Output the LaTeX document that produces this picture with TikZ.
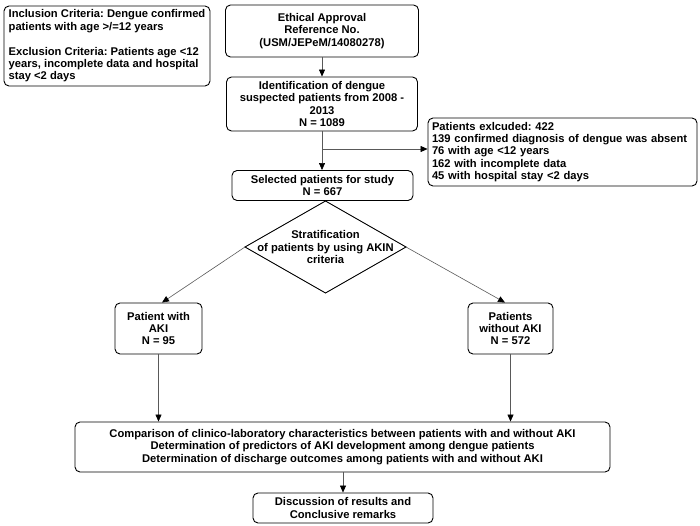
\documentclass[tikz,border=0pt]{standalone}
\usepackage{fontspec}
\setmainfont{Liberation Sans}
\usetikzlibrary{arrows.meta,calc}
\frenchspacing
\begin{document}
\begin{tikzpicture}[x=1pt,y=-1pt,
  font=\fontsize{11.2}{12.4}\selectfont\bfseries,
  box/.style={draw=black, line width=0.9pt, rounded corners=5pt, align=center, inner sep=2pt},
  conn/.style={draw=black!65, line width=0.6pt, -{Triangle[length=7pt,width=6pt,color=black]}},
  diam/.style={draw=black, line width=0.9pt},
]
\useasboundingbox (0,0) rectangle (700,526);

\node[box, align=left, minimum width=206pt, minimum height=80pt] (crit) at (107,46)
  {Inclusion Criteria: Dengue confirmed\\patients with age >/=12 years\\[12.4pt]
   Exclusion Criteria: Patients age <12\\years, incomplete data and hospital\\stay <2 days};

\node[box, minimum width=193pt, minimum height=52pt] (eth) at (322,31)
  {Ethical Approval\\Reference No.\\(USM/JEPeM/14080278)};

\node[box, minimum width=191pt, minimum height=54pt] (ident) at (322,104)
  {Identification of dengue\\suspected patients from 2008 -\\2013\\N = 1089};

\node[box, align=left, inner xsep=4pt, text width=261pt, minimum width=269pt, minimum height=68pt] (excl) at (562.5,152)
  {Patients exlcuded: 422\\139 confirmed diagnosis of dengue was absent\\76 with age <12 years\\162 with incomplete data\\45 with hospital stay <2 days};

\node[box, minimum width=181pt, minimum height=30pt] (sel) at (322.5,185.5)
  {Selected patients for study\\N = 667};

\coordinate (dt) at (325.5,201);
\coordinate (dl) at (245,247);
\coordinate (dr) at (406,247);
\coordinate (db) at (325.5,293);
\draw[diam] (dt) -- (dr) -- (db) -- (dl) -- cycle;
\node[align=center, inner sep=0pt] (strat) at (325.5,247)
  {Stratification\\of patients by using AKIN\\criteria};

\node[box, minimum width=87pt, minimum height=51pt] (aki) at (158.5,328.5)
  {Patient with\\AKI\\N = 95};
\node[box, minimum width=85pt, minimum height=51pt] (woaki) at (510.5,328.5)
  {Patients\\without AKI\\N = 572};

\node[box, minimum width=535pt, minimum height=50pt] (comp) at (342.5,447)
  {Comparison of clinico-laboratory characteristics between patients with and without AKI\\
   Determination of predictors of AKI development among dengue patients\\
   Determination of discharge outcomes among patients with and without AKI};

\node[box, minimum width=180pt, minimum height=30pt] (disc) at (343,508)
  {Discussion of results and\\Conclusive remarks};

\draw[conn] (eth.south) -- (ident.north);
\draw[conn] (ident.south) -- (sel.north -| ident.south);
\coordinate (br) at (ident.south |- 0,149);
\draw[conn] (br) -- (excl.west |- br);
\draw[conn] (dl) -- ([xshift=3.5pt]aki.north);
\draw[conn] (dr) -- ([xshift=-5.5pt]woaki.north);
\draw[conn] (aki.south) -- (aki.south |- comp.north);
\draw[conn] (woaki.south) -- (woaki.south |- comp.north);
\draw[conn] (comp.south -| disc.north) -- (disc.north);
\end{tikzpicture}
\end{document}
